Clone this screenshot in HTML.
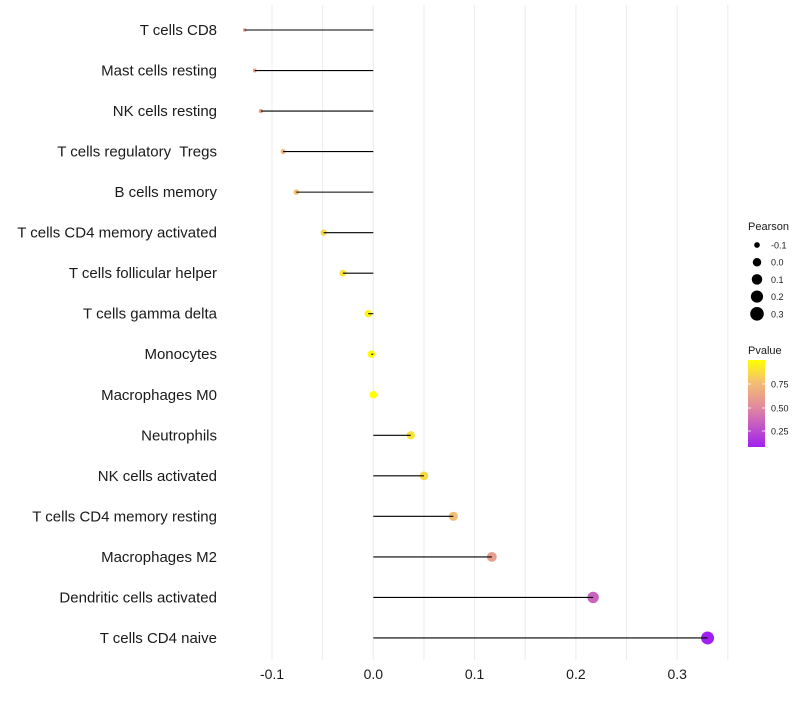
<!DOCTYPE html>
<html><head><meta charset="utf-8"><style>
body{margin:0;background:#fff;font-family:"Liberation Sans",sans-serif}
svg text{font-family:"Liberation Sans",sans-serif;white-space:pre}
</style></head><body>
<svg id="chart" width="800" height="700">
<defs><linearGradient id="pg" x1="0" y1="1" x2="0" y2="0">
<stop offset="0" stop-color="#a020f0"/><stop offset="0.45" stop-color="#e088a0"/><stop offset="0.75" stop-color="#f5c070"/><stop offset="1" stop-color="#ffff00"/></linearGradient></defs>
<g id="grid"></g><g id="dots"></g><g id="marks"></g><g id="labels"></g><g id="legend"></g>
</svg>
<script>
const categories=["T cells CD8","Mast cells resting","NK cells resting","T cells regulatory  Tregs","B cells memory","T cells CD4 memory activated","T cells follicular helper","T cells gamma delta","Monocytes","Macrophages M0","Neutrophils","NK cells activated","T cells CD4 memory resting","Macrophages M2","Dendritic cells activated","T cells CD4 naive"];
const pearson=[-0.127,-0.117,-0.111,-0.089,-0.076,-0.049,-0.030,-0.005,-0.002,0.000,0.037,0.050,0.079,0.117,0.217,0.330];
const pvalues=[0.60,0.62,0.63,0.70,0.74,0.83,0.88,0.97,0.99,1.0,0.88,0.85,0.74,0.60,0.35,0.08];
const xTicks=[-0.1,0,0.1,0.2,0.3];
const xTickLabels=["-0.1","0.0","0.1","0.2","0.3"];
const NS="http://www.w3.org/2000/svg";
const x=v=>373.3+v*1013;
const y=i=>30+i*40.53;
const pmin=Math.min(...pearson),pmax=Math.max(...pearson);
const rad=v=>Math.sqrt(3.24+(v-pmin)/(pmax-pmin)*39);
const stops=[[0.08,[160,32,240]],[0.5,[224,136,160]],[0.75,[245,192,112]],[1.0,[255,255,0]]];
function col(p){p=Math.max(0.08,Math.min(1,p));for(let k=1;k<stops.length;k++){if(p<=stops[k][0]){const a=stops[k-1],b=stops[k],t=(p-a[0])/(b[0]-a[0]);return "rgb("+a[1].map((c,j)=>Math.round(c+(b[1][j]-c)*t)).join(",")+")";}}return "rgb(255,255,0)";}
function mk(t,at,parent){const e=document.createElementNS(NS,t);for(const k in at)e.setAttribute(k,at[k]);document.getElementById(parent).appendChild(e);return e;}
for(let g=-0.1;g<=0.351;g+=0.05){
 const l=mk("line",{x1:x(g),x2:x(g),y1:5,y2:660,stroke:"#ebebeb","stroke-width":1},"grid");
 
 
}
xTicks.forEach((t,i)=>{
 const e=mk("text",{x:x(t),y:679,"text-anchor":"middle","font-size":14,fill:"#1a1a1a"},"labels");
 e.textContent=xTickLabels[i];
 
 
});
categories.forEach((c,i)=>{
 const t=mk("text",{x:217,y:y(i)+5,"text-anchor":"end","font-size":15,fill:"#1a1a1a"},"labels");
 t.textContent=c;
 
 
 const d=mk("circle",{cx:x(pearson[i]),cy:y(i),r:rad(pearson[i]),fill:col(pvalues[i])},"dots");
 
 
 const s=mk("line",{x1:x(0),x2:x(pearson[i]),y1:y(i),y2:y(i),stroke:"#000","stroke-width":1.1},"marks");
 
 
});
const lt=mk("text",{x:748,y:230,"font-size":11,fill:"#1a1a1a"},"legend");lt.textContent="Pearson";


const lv=[-0.1,0,0.1,0.2,0.3],ll=["-0.1","0.0","0.1","0.2","0.3"];
lv.forEach((v,i)=>{const cy=245+i*17.2;
 const c=mk("circle",{cx:757,cy:cy,r:rad(v)+0.5,fill:"#000"},"legend");
 
 
 const t=mk("text",{x:771,y:cy+3.5,"font-size":9,fill:"#1a1a1a"},"legend");t.textContent=ll[i];
 
 
});
const pt=mk("text",{x:748,y:354,"font-size":11,fill:"#1a1a1a"},"legend");pt.textContent="Pvalue";


const bar=mk("rect",{x:748,y:360,width:17,height:87,fill:"url(#pg)"},"legend");


[[0.75,384],[0.5,408],[0.25,431]].forEach(([v,yy])=>{
 mk("line",{x1:748,x2:751,y1:yy,y2:yy,stroke:"#fff","stroke-width":0.8},"legend");
 mk("line",{x1:762,x2:765,y1:yy,y2:yy,stroke:"#fff","stroke-width":0.8},"legend");
 const t=mk("text",{x:771,y:yy+3.5,"font-size":9,fill:"#1a1a1a"},"legend");t.textContent=v.toFixed(2);
 
 
});
</script>
</body></html>
